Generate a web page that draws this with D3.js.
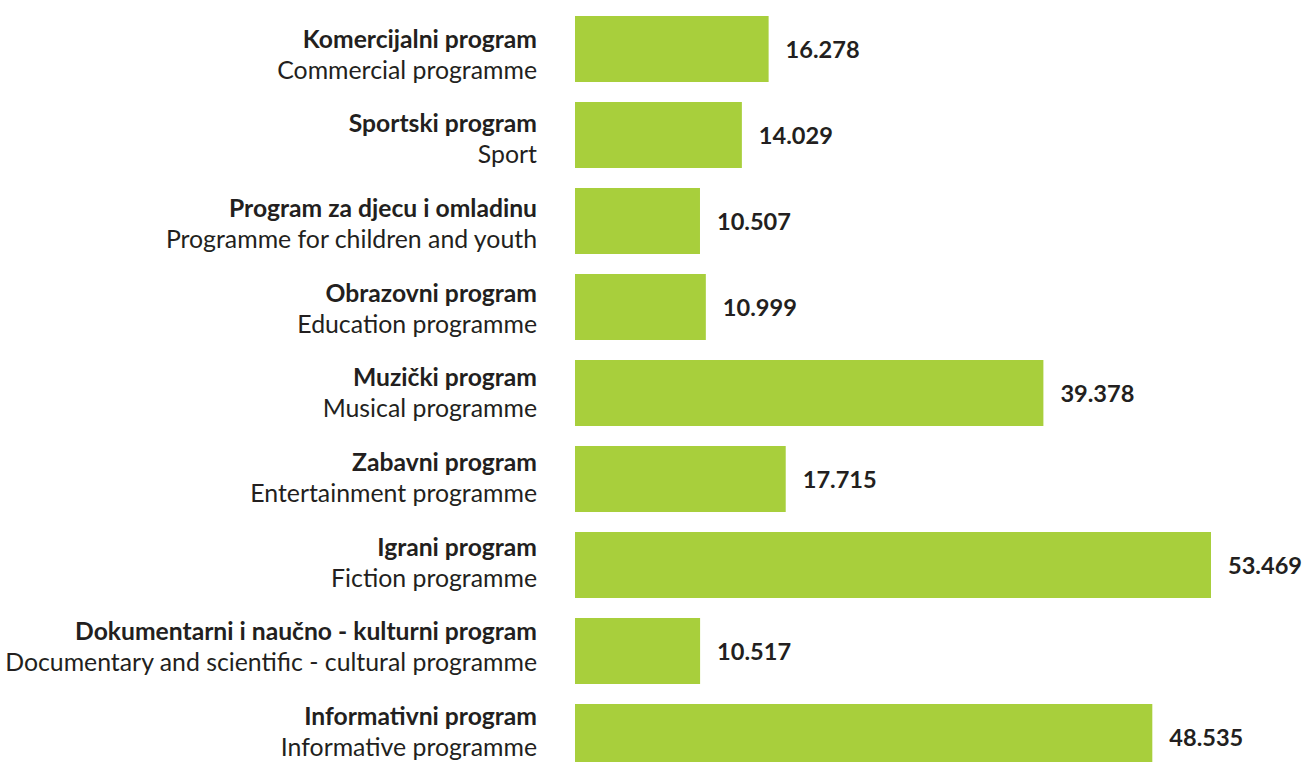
<!DOCTYPE html>
<html>
<head>
<meta charset="utf-8">
<script src="https://cdn.jsdelivr.net/npm/d3@7"></script>
<style>
  body { margin: 0; background: #fff; }
  svg { display: block; }
  text { font-family: Lato, "Open Sans", sans-serif; fill: #231f20; }
  .bold { font-weight: 700; }
</style>
</head>
<body>
<svg width="1305" height="762"></svg>
<script>
// categories (top to bottom), local name + english name
const namesLocal = [
  "Komercijalni program",
  "Sportski program",
  "Program za djecu i omladinu",
  "Obrazovni program",
  "Muzički program",
  "Zabavni program",
  "Igrani program",
  "Dokumentarni i naučno - kulturni program",
  "Informativni program"
];
const namesEnglish = [
  "Commercial programme",
  "Sport",
  "Programme for children and youth",
  "Education programme",
  "Musical programme",
  "Entertainment programme",
  "Fiction programme",
  "Documentary and scientific - cultural programme",
  "Informative programme"
];
const values = [16.278, 14.029, 10.507, 10.999, 39.378, 17.715, 53.469, 10.517, 48.535];

const fmt = v => v.toFixed(3);

const svg = d3.select("svg");

const x = d3.scaleLinear()
    .domain([0, d3.max(values)])
    .range([575, 1211]);

const y = d3.scaleBand()
    .domain(d3.range(values.length))
    .range([16, 770])
    .paddingInner(20 / 86)
    .paddingOuter(0);

// the two-line labels sit on their own slightly tighter rhythm
const yLabel = d3.scalePoint()
    .domain(d3.range(values.length))
    .range([47.5, 725]);

// font size fitted so the longest text spans the same width as the original
function fitSize(text, cls, target) {
    const t = svg.append("text").attr("class", cls)
        .style("font-size", "100px").text(text);
    const w = t.node().getComputedTextLength();
    t.remove();
    return 100 * target / w;
}
const sizeBold = fitSize(namesLocal[7], "bold", 462);
const sizeNorm = fitSize(namesEnglish[7], "", 532);
const sizeVal = fitSize(fmt(values[0]), "bold", 74);

svg.append("g")
  .selectAll("rect")
  .data(values)
  .join("rect")
    .attr("x", x(0))
    .attr("y", (d, i) => y(i))
    .attr("width", d => x(d) - x(0))
    .attr("height", y.bandwidth())
    .attr("fill", "#a8cf3c");

svg.append("g")
  .selectAll("text")
  .data(values)
  .join("text")
    .attr("class", "bold")
    .attr("x", d => x(d) + 17)
    .attr("y", (d, i) => y(i) + y.bandwidth() / 2 + 8.5)
    .style("font-size", sizeVal + "px")
    .text(fmt);

const labels = svg.append("g")
    .attr("text-anchor", "end");

labels.selectAll("text.bold")
  .data(namesLocal)
  .join("text")
    .attr("class", "bold")
    .attr("x", 537)
    .attr("y", (d, i) => yLabel(i))
    .style("font-size", sizeBold + "px")
    .text(d => d);

labels.selectAll("text.en")
  .data(namesEnglish)
  .join("text")
    .attr("class", "en")
    .attr("x", 537)
    .attr("y", (d, i) => yLabel(i) + 31)
    .style("font-size", sizeNorm + "px")
    .text(d => d);
</script>
</body>
</html>
